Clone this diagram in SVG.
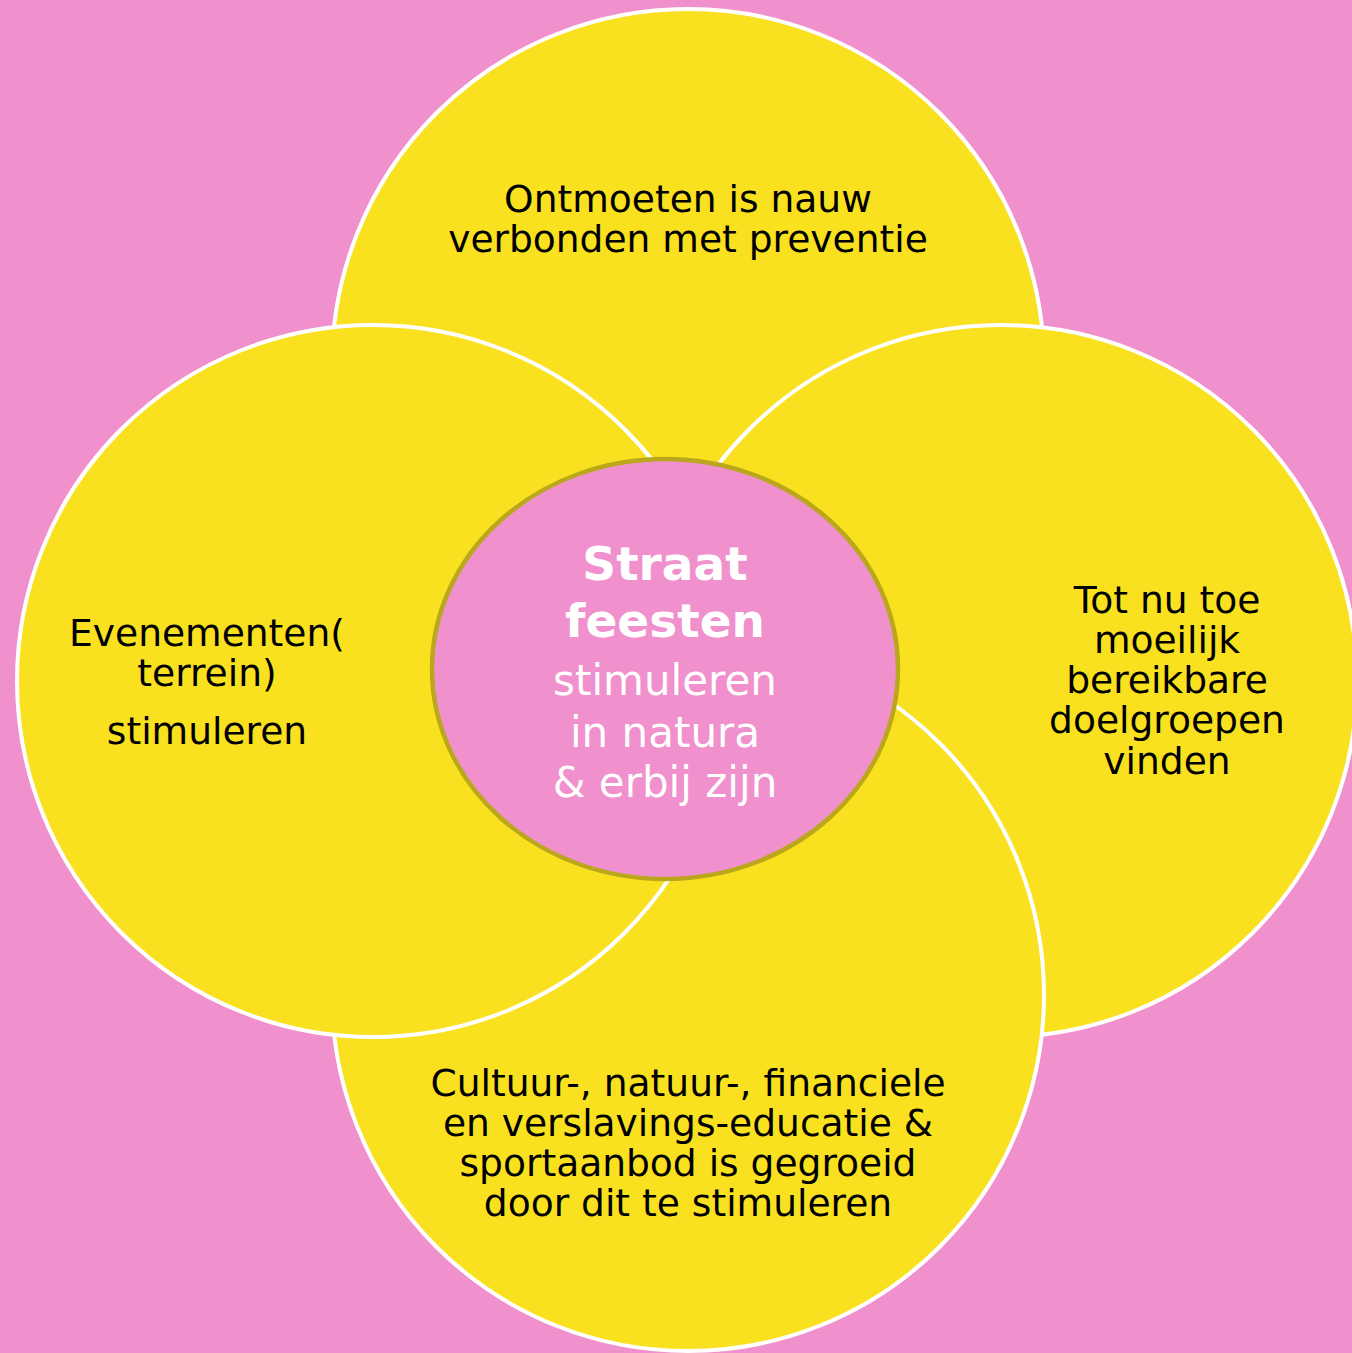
<svg xmlns="http://www.w3.org/2000/svg" width="1352" height="1353" viewBox="0 0 1352 1353">
<style>
.c{fill:#F9E11F;stroke:#FFFFFF;stroke-width:4}
.t{font-family:"DejaVu Sans","Verdana",sans-serif;font-size:37.6px;fill:#000;text-anchor:middle}
.w{font-family:"DejaVu Sans","Verdana",sans-serif;fill:#FFFFFF;text-anchor:middle}
</style>
<rect x="0" y="0" width="1352" height="1353" fill="#F090CC"/>
<g id="connectors"></g>
<g id="node-top">
<circle class="c" cx="688" cy="365" r="356"/>
<text class="t" x="688" y="212">Ontmoeten is nauw</text>
<text class="t" x="688" y="252">verbonden met preventie</text>
</g>
<g id="node-right">
<circle class="c" cx="1001" cy="681" r="356"/>
<text class="t" x="1167" y="613">Tot nu toe</text>
<text class="t" x="1167" y="653">moeilijk</text>
<text class="t" x="1167" y="693">bereikbare</text>
<text class="t" x="1167" y="733">doelgroepen</text>
<text class="t" x="1167" y="774">vinden</text>
</g>
<g id="node-bottom">
<circle class="c" cx="688" cy="995" r="356"/>
<text class="t" x="688" y="1096">Cultuur-, natuur-, financiele</text>
<text class="t" x="688" y="1136">en verslavings-educatie &amp;</text>
<text class="t" x="688" y="1176">sportaanbod is gegroeid</text>
<text class="t" x="688" y="1216">door dit te stimuleren</text>
</g>
<g id="node-left">
<circle class="c" cx="373" cy="681" r="356"/>
<text class="t" x="207" y="646">Evenementen(</text>
<text class="t" x="207" y="686">terrein)</text>
<text class="t" x="207" y="744">stimuleren</text>
</g>
<g id="node-center">
<ellipse cx="665" cy="669" rx="233" ry="210" fill="#F090CC" stroke="#BAA71C" stroke-width="4.5"/>
<text class="w" x="665" y="580" font-size="47" font-weight="bold">Straat</text>
<text class="w" x="665" y="637" font-size="47" font-weight="bold">feesten</text>
<text class="w" x="665" y="695" font-size="42">stimuleren</text>
<text class="w" x="665" y="747" font-size="42">in natura</text>
<text class="w" x="665" y="797" font-size="42">&amp; erbij zijn</text>
</g>
</svg>
